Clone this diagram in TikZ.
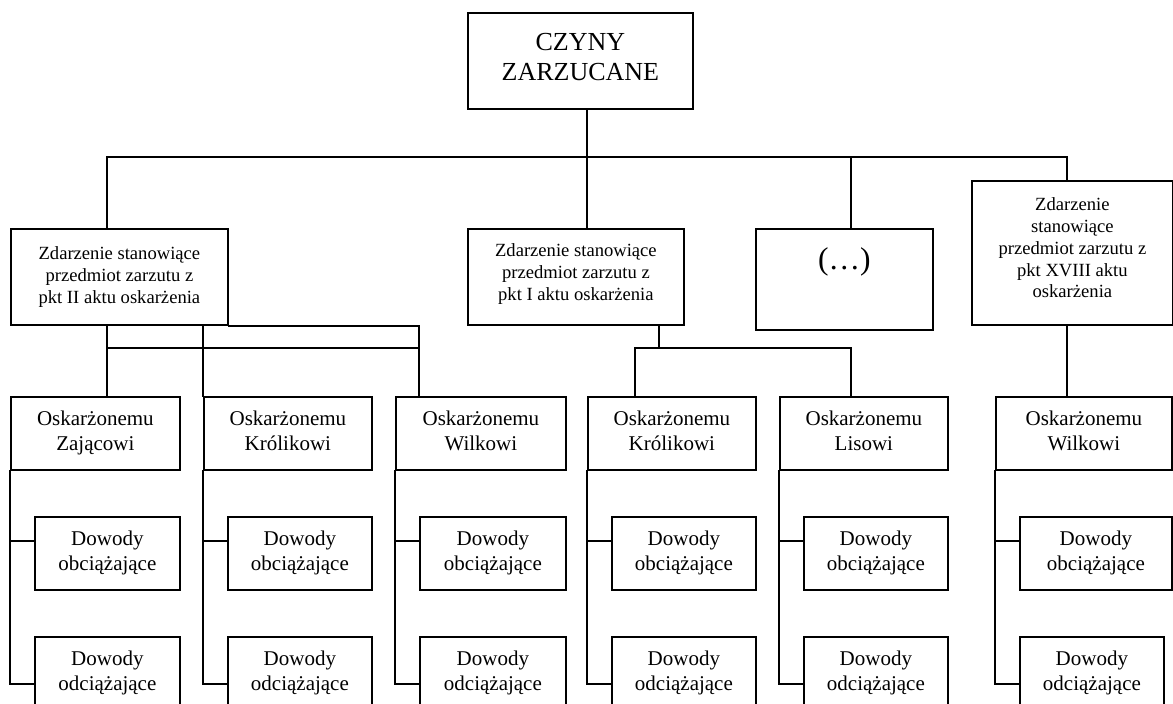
\documentclass[tikz,border=0pt]{standalone}
\usepackage{fontspec}
\setmainfont{Liberation Serif}
\usetikzlibrary{calc}
\tikzset{
  ln/.style={line width=1.8pt, line cap=rect},
  box/.style={draw, line width=1.8pt, inner sep=0pt, align=center, anchor=north west, fill=white},
  ftop/.style={font=\fontsize{26}{30.5}\selectfont},
  fmid/.style={font=\fontsize{18.6}{21.8}\selectfont},
  flow/.style={font=\fontsize{21}{25}\selectfont},
  fdots/.style={font=\fontsize{31.5}{36}\selectfont},
}
\begin{document}
\begin{tikzpicture}[x=1pt,y=-1pt]
\useasboundingbox (0,0) rectangle (1173,704);
% top
\node[box, minimum width=225, minimum height=96] (top) at (467,12) {};
\node[ftop, align=center] (topt) at ($(top.center)+(0,-4)$) {CZYNY\\ZARZUCANE};
% level 2
\node[box, fmid, minimum width=217, minimum height=96] (A) at (10,228) {Zdarzenie stanowiące\\przedmiot zarzutu z\\pkt II aktu oskarżenia};
\node[box, minimum width=216, minimum height=96] (B) at (467,228) {};
\node[fmid, align=center] (Bt) at ($(B.center)+(0,-3)$) {Zdarzenie stanowiące\\przedmiot zarzutu z\\pkt I aktu oskarżenia};
\node[box, minimum width=177, minimum height=101] (C) at (755,228) {};
\node[fdots] (Ct) at ($(C.north)+(0,34)$) {(\ldots)};
\node[box, minimum width=201, minimum height=144] (D) at (971,180) {};
\node[fmid, align=center] (Dt) at ($(D.center)+(0,-5)$) {Zdarzenie\\stanowiące\\przedmiot zarzutu z\\pkt XVIII aktu\\oskarżenia};
% level 3 and 4
\foreach \n/\a/\b/\c/\t in {Z/10/179/179/Zającowi, K/203/371/371/Królikowi, W/395/565/565/Wilkowi, Q/587/755/755/Królikowi, L/779/947/947/Lisowi, V/995/1171/1163/Wilkowi}{
  \node[box, flow, minimum width={\b-\a}, minimum height=73] (\n) at (\a,396) {\strut Oskarżonemu\\\strut\t};
  \node[box, flow, minimum width={\b-\a-24}, minimum height=73] (\n1) at (\a+24,516) {\strut Dowody\\\strut obciążające};
  \node[box, flow, minimum width={\c-\a-24}, minimum height=73] (\n2) at (\a+24,636) {\strut Dowody\\\strut odciążające};
  \coordinate (\n j1) at ($(\n1.north west)+(0,25)$);
  \coordinate (\n j2) at ($(\n2.north west)+(0,48)$);
  \draw[ln] (\n.south west) |- (\n j2);
  \draw[ln] (\n j1 -| \n.south west) -- (\n j1);
}
% reference lines
\coordinate (bar) at (0,157);
\coordinate (ha) at (0,348);
\coordinate (s) at (587,0);
\coordinate (bl) at ($(A.north west)+(97,-71)$);   % x=107, y=157
\coordinate (cc) at ($(C.north west)+(96,-71)$);   % x=851
\coordinate (br) at ($(D.north west)+(96,-23)$);   % x=1067
\coordinate (wx) at ($(W.north west)+(24,0)$);     % x=419
\coordinate (qx) at ($(Q.north west)+(48,0)$);     % x=635
\coordinate (bs) at ($(B.south west)+(192,0)$);    % x=659
% level 1 -> 2
\draw[ln] (top.south -| s) -- (B.north -| s);
\draw[ln] (bl) -- (br);
\draw[ln] (bl) -- (bl |- A.north);
\draw[ln] (br) -- (br |- D.north);
\draw[ln] (cc) -- (cc |- C.north);
% A -> Z, K, W
\draw[ln] (A.south east) -| (wx);
\draw[ln] (bl |- A.south) -- (bl |- Z.north);
\draw[ln] (K.north west |- A.south) -- (K.north west);
\draw[ln] (bl |- ha) -- (wx |- ha);
% B -> Q, L
\draw[ln] (bs) -- (bs |- ha);
\draw[ln] (qx) |- (cc |- ha) -- (cc |- L.north);
% D -> V
\draw[ln] (br |- D.south) -- (br |- V.north);
\end{tikzpicture}
\end{document}
